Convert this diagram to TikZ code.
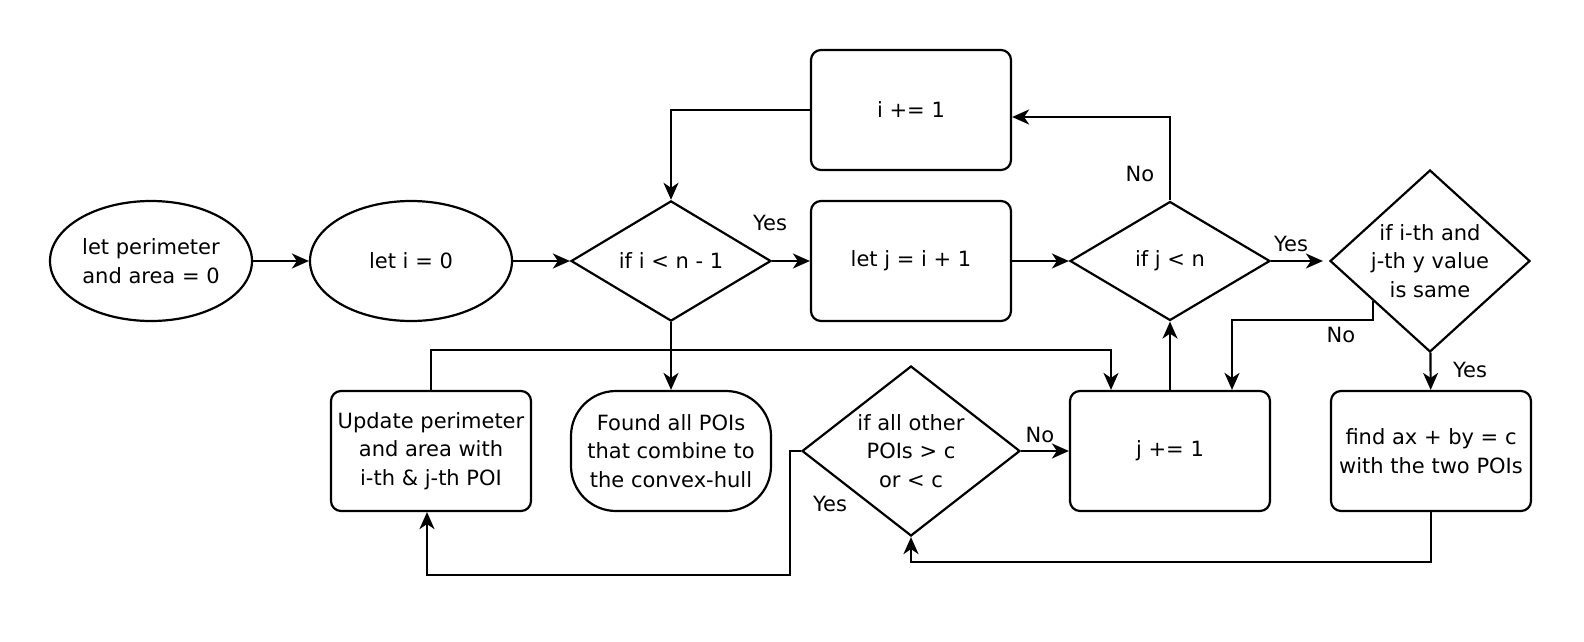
\documentclass[tikz,border=0pt]{standalone}
\usepackage{fontspec}
\setmainfont{DejaVu Sans}
\usetikzlibrary{shapes.geometric,arrows.meta}
\begin{document}
\begin{tikzpicture}[x=1pt,y=-1pt,line width=2.2pt,font=\fontsize{21}{28.5}\selectfont,
    >={Stealth[length=17pt,width=15pt,inset=5pt]},
    oval/.style={shape=ellipse,draw=black,minimum width=202pt,minimum height=120pt,inner sep=1pt,align=center},
    box/.style={shape=rectangle,draw=black,rounded corners=10pt,minimum width=200pt,minimum height=120pt,align=center},
    cond/.style={shape=diamond,draw=black,inner sep=0pt},
    every label/.style={align=center}]
    \useasboundingbox (0,0) rectangle (1584,642);

    \node[oval] (S) at (151,261) {let perimeter\\and area = 0};
    \node[oval] (I) at (411,261) {let i = 0};
    \node[cond,minimum width=200pt,minimum height=119pt] (Ci) at (671,261) {if i < n - 1};
    \node[box] (Inc) at (911,110) {i += 1};
    \node[box] (J) at (911,261) {let j = i + 1};
    \node[cond,minimum width=200pt,minimum height=119pt] (Cj) at (1170,261) {if j < n};
    \node[cond,minimum width=200pt,minimum height=182pt,label=center:{if i-th and\\j-th y value\\is same}] (Eq) at (1430,261) {};
    \node[box] (F) at (1431,451) {find ax + by = c\\with the two POIs};
    \node[box] (Jinc) at (1170,451) {j += 1};
    \node[cond,minimum width=218pt,minimum height=170pt,label=center:{if all other\\POIs > c\\or < c}] (Ca) at (911,451) {};
    \node[box] (U) at (431,451) {Update perimeter\\and area with\\i-th \& j-th POI};
    \node[box,rounded corners=45pt] (D) at (671,451) {Found all POIs\\that combine to\\the convex-hull};

    % yes / no
    \node (y1) at (770,223) {Yes};
    \node (y2) at (1291,244) {Yes};
    \node (n1) at (1140,174) {No};
    \node (n2) at (1341,335) {No};
    \node (y3) at (1470,370) {Yes};
    \node (n3) at (1040,435) {No};
    \node (y4) at (830,504) {Yes};

    \draw[->] (S) -- (I);
    \draw[->] (I) -- (Ci);
    \draw[->] (Ci) -- (J);
    \draw[->] (J) -- (Cj);
    \draw[->] (Cj.east) -- ([xshift=-6pt]Eq.west);
    \draw[->] (Cj.north) |- ([yshift=-7pt]Inc.east);
    \draw[->] (Inc.west) -| (Ci.north);
    \draw[->] (Ci) -- (D);
    \draw[->] (U.north) -- ++(0,-40) -| ([xshift=-59pt]Jinc.north);
    \draw[->] (Jinc) -- (Cj);
    \draw[->] (Eq.215) -- ++(0,19) -| ([xshift=62pt]Jinc.north);
    \draw[->] (Eq) -- (F);
    \draw[->] (F.south) -- ++(0,50) -| (Ca.south);
    \draw[->] (Ca) -- (Jinc);
    \draw[->] (Ca.west) -- ++(-11,0) -- ++(0,124) -| ([xshift=-4pt]U.south);
\end{tikzpicture}
\end{document}
